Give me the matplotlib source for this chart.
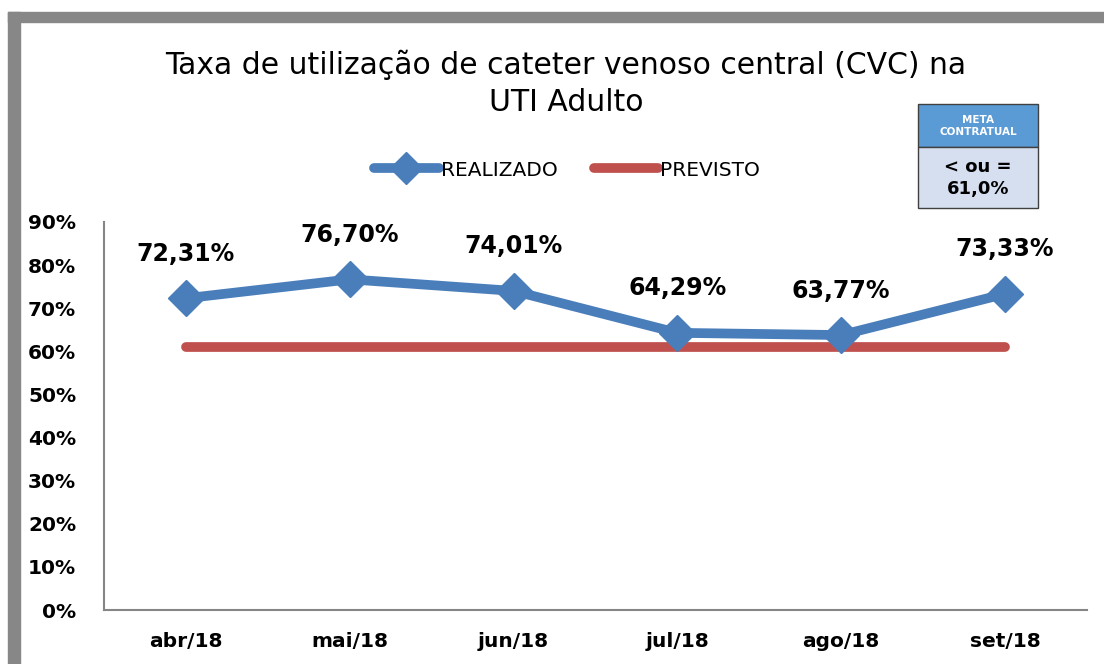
import matplotlib.pyplot as plt
from matplotlib.patches import Rectangle
from matplotlib.ticker import FuncFormatter

plt.rcParams['font.family'] = ['DejaVu Sans']

meses = ["abr/18", "mai/18", "jun/18", "jul/18", "ago/18", "set/18"]
realizado = [0.7231, 0.7670, 0.7401, 0.6429, 0.6377, 0.7333]
previsto = [0.61, 0.61, 0.61, 0.61, 0.61, 0.61]

titulo = "Taxa de utilização de cateter venoso central (CVC) na\nUTI Adulto"
meta_titulo = "META\nCONTRATUAL"
meta_valor = "< ou =\n61,0%"

fig = plt.figure(figsize=(11.04, 6.64), dpi=100)

# gray frame (only top and left visible in the crop)
fig.patches.append(Rectangle((8 / 1104, 0), 12 / 1104, (664 - 12) / 664,
                             transform=fig.transFigure, color='#878787', zorder=0))
fig.patches.append(Rectangle((8 / 1104, (664 - 22) / 664), 1 - 8 / 1104, 10 / 664,
                             transform=fig.transFigure, color='#878787', zorder=0))

ax = fig.add_axes([104 / 1104, 54 / 664, 983 / 1104, 388 / 664])
x = list(range(len(meses)))

ax.plot(x, previsto, color='#C0504D', lw=7, solid_capstyle='round', label='PREVISTO', zorder=2)
ax.plot(x, realizado, color='#4A7EBB', lw=7, marker='D', markersize=18,
        solid_capstyle='round', label='REALIZADO', zorder=3)

for xi, v in zip(x, realizado):
    ax.annotate(f"{v * 100:.2f}%".replace('.', ','), (xi, v), xytext=(0, 32),
                textcoords='offset points', ha='center', va='center',
                fontsize=17, fontweight='bold')

ax.set_xlim(-0.5, 5.5)
ax.set_ylim(0, 0.9)
ax.set_yticks([i / 10 for i in range(10)])
ax.yaxis.set_major_formatter(FuncFormatter(lambda v, p: f"{v * 100:.0f}%"))
ax.set_xticks(x)
ax.set_xticklabels(meses)
for lab in ax.get_xticklabels() + ax.get_yticklabels():
    lab.set_fontweight('bold')
    lab.set_fontsize(14.5)
ax.tick_params(length=0, pad=20)
ax.tick_params(axis='x', pad=16)
for s in ['top', 'right']:
    ax.spines[s].set_visible(False)
for s in ['left', 'bottom']:
    ax.spines[s].set_color('#868686')
    ax.spines[s].set_linewidth(1.5)

fig.text(566 / 1104, 1 - 83 / 664, titulo, ha='center', va='center',
         fontsize=21.5, linespacing=1.35)

h, l = ax.get_legend_handles_labels()
leg = fig.legend(h[::-1], l[::-1], loc='center', bbox_to_anchor=(567 / 1104, 1 - 170 / 664),
                 ncol=2, frameon=False, fontsize=14.5, handlelength=3.2, handletextpad=0.1,
                 columnspacing=1.8, markerscale=0.9)

# meta contratual box
bx, bw = 918 / 1104, 120 / 1104
fig.patches.append(Rectangle((bx, 1 - 147 / 664), bw, 43 / 664, transform=fig.transFigure,
                             facecolor='#5B9BD5', edgecolor='#404040', lw=1))
fig.patches.append(Rectangle((bx, 1 - 208 / 664), bw, 61 / 664, transform=fig.transFigure,
                             facecolor='#D6DFF0', edgecolor='#404040', lw=1))
fig.text(bx + bw / 2, 1 - 126 / 664, meta_titulo, ha='center', va='center', color='white',
         fontsize=7.5, fontweight='bold', linespacing=1.3)
fig.text(bx + bw / 2, 1 - 178 / 664, meta_valor, ha='center', va='center', color='black',
         fontsize=13, fontweight='bold', linespacing=1.35)

fig.savefig('out.png', dpi=100)
